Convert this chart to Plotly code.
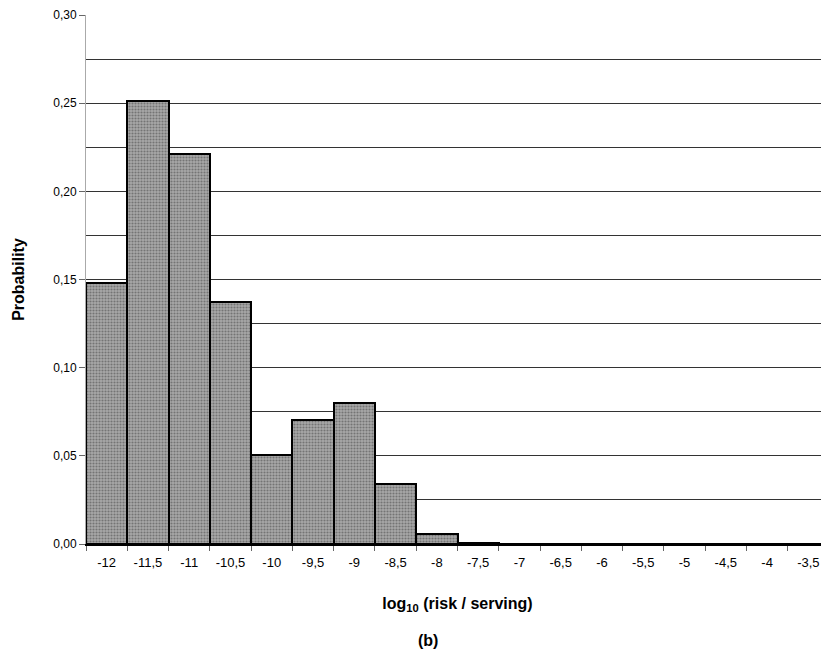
import plotly.graph_objects as go

categories = ["-12", "-11,5", "-11", "-10,5", "-10", "-9,5", "-9", "-8,5", "-8",
              "-7,5", "-7", "-6,5", "-6", "-5,5", "-5", "-4,5", "-4", "-3,5"]
probability = [0.148, 0.251, 0.221, 0.137, 0.0505, 0.0703, 0.080, 0.034, 0.0057,
               0.0005, 0, 0, 0, 0, 0, 0, 0, 0]

fig = go.Figure()
fig.add_trace(go.Bar(
    x=categories,
    y=probability,
    marker=dict(
        color="#a0a0a0",
        line=dict(color="black", width=2),
        pattern=dict(shape=".", fgcolor="#404040", bgcolor="#a8a8a8", size=3, solidity=0.4),
    ),
    showlegend=False,
))

font_family = "Liberation Sans, Arial, sans-serif"
fig.update_layout(
    width=821, height=646,
    margin=dict(l=78, r=0, t=7, b=110),
    plot_bgcolor="white", paper_bgcolor="white",
    separators=",.",
    bargap=0,
    font=dict(family=font_family, size=12, color="black"),
    xaxis=dict(
        type="category",
        tickson="boundaries",
        ticks="outside", ticklen=5, tickcolor="#666666",
        showline=True, linecolor="black", linewidth=1.5,
        showgrid=False,
        tickfont=dict(size=13),
        ticklabelstandoff=6,
        automargin=False,
        title=dict(text="<b>log<sub>10</sub> (risk / serving)</b>", font=dict(size=16), standoff=28),
    ),
    yaxis=dict(
        range=[0, 0.30],
        dtick=0.05, tick0=0,
        tickformat=".2f",
        ticks="outside", ticklen=6, tickcolor="#666666",
        showline=True, linecolor="#aaaaaa", linewidth=1,
        showgrid=True, gridcolor="#333333", gridwidth=1,
        minor=dict(dtick=0.025, showgrid=True, gridcolor="#333333", gridwidth=1),
        zeroline=False,
        tickfont=dict(size=12),
        automargin=False,
        title=dict(text="<b>Probability</b>", font=dict(size=16), standoff=24),
    ),
    annotations=[dict(
        text="<b>(b)</b>", xref="paper", yref="paper", x=0.460, y=-0.183,
        xanchor="center", yanchor="middle", showarrow=False, font=dict(size=16),
    )],
)

fig.write_html("out.html")
